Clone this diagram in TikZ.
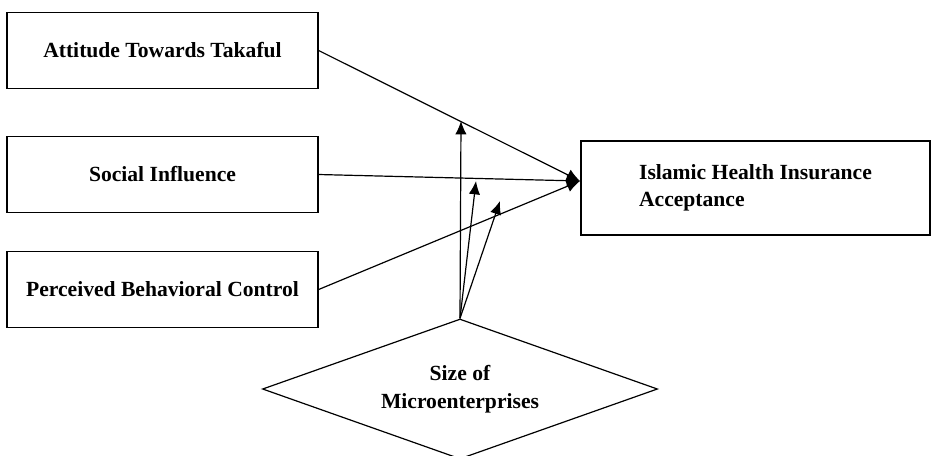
\documentclass[tikz,border=0pt]{standalone}
\usepackage{fontspec}
\setmainfont{Liberation Serif}
\usetikzlibrary{arrows.meta, shapes.geometric, math}

\tikzset{
  factor/.style={draw, line width=0.9pt, minimum width=233.3pt, minimum height=57pt,
    inner sep=0pt, font=\bfseries\fontsize{16.2}{20}\selectfont},
  outcome/.style={draw, line width=0.9pt, minimum width=261.8pt, minimum height=70.5pt,
    align=left, inner sep=0pt, font=\bfseries\fontsize{16.2}{20}\selectfont},
  moderator/.style={draw, diamond, aspect=2.8, line width=0.9pt, minimum width=296.3pt,
    minimum height=105pt, align=center, inner sep=0pt,
    font=\bfseries\fontsize{16.2}{21}\selectfont},
  mainarr/.style={line width=0.9pt, -{Latex[length=10pt,width=9pt]}},
  modarr/.style={line width=0.9pt, -{Latex[length=10pt,width=8.5pt]}}
}

\begin{document}
\begin{tikzpicture}[x=0.75pt, y=-0.75pt]

\tikzmath{
\bx = 162.5; % centre of the left boxes
}

\useasboundingbox (0,0) rectangle (932,455);

% predictors
\node[factor] (att) at (\bx,50.5) {Attitude Towards Takaful};
\node[factor] (soc) at (\bx,174.5) {Social Influence};
\node[factor] (pbc) at (\bx,289.5) {Perceived Behavioral Control};

% outcome and moderator
\node[outcome] (acc) at (755.5,188) {Islamic Health Insurance\\Acceptance};
\node[moderator] (size) at (460,389) {Size of\\Microenterprises};

\coordinate (meet) at (580,181);
\coordinate (m1) at (461,121);
\coordinate (m2) at (476,181);
\coordinate (m3) at (500,201);

\draw[mainarr] (att.east) -- (meet);
\draw[mainarr] (soc.east) -- (meet);
\draw[mainarr] (pbc.east) -- (meet);

\foreach \m in {m1, m2, m3}{
  \draw[modarr] (size.north) -- (\m);
}

\end{tikzpicture}
\end{document}
